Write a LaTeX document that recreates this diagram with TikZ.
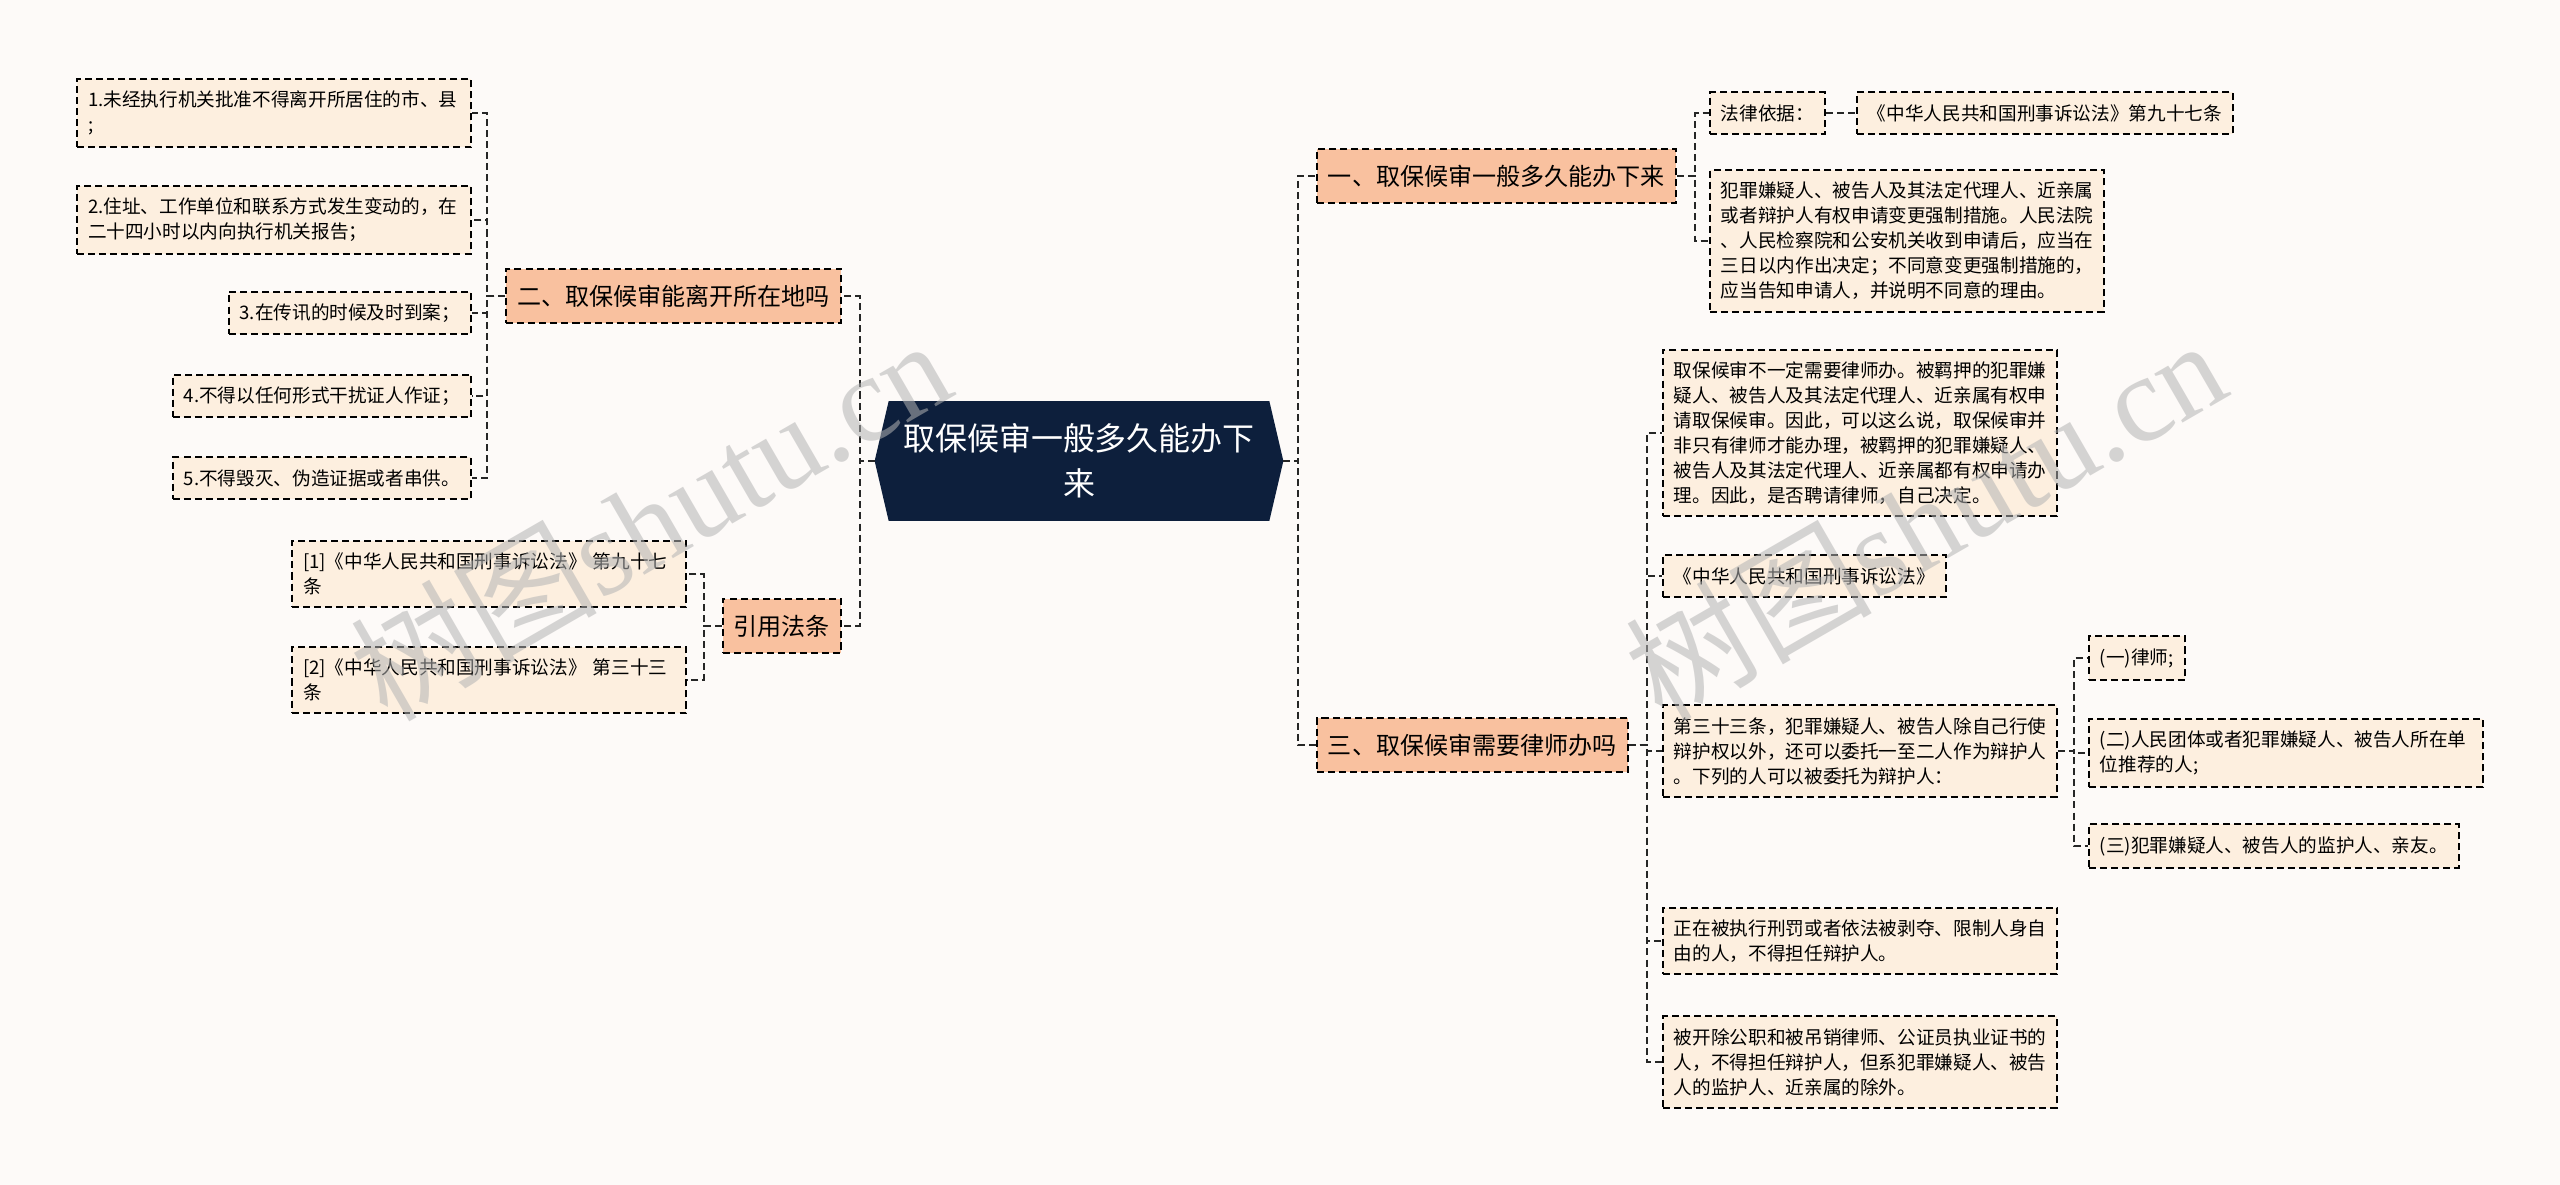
\documentclass[tikz,border=0pt]{standalone}
\usepackage{fontspec}
\setmainfont{Noto Sans CJK SC}
\newfontfamily\wmlatin{Liberation Serif}
\usetikzlibrary{calc,backgrounds}
\definecolor{pagebg}{HTML}{FDFAF8}
\definecolor{leafbg}{HTML}{FDEFDF}
\definecolor{branchbg}{HTML}{F9C19F}
\definecolor{rootbg}{HTML}{0D1F3C}
\definecolor{wmgray}{HTML}{B4B4B4}
\newcommand\leaffont{\fontsize{10.6pt}{14.2pt}\selectfont}
\newcommand\branchfont{\fontsize{13.7pt}{16pt}\selectfont}
\newcommand\rootfont{\fontsize{18.2pt}{25.6pt}\selectfont}

\begin{document}
\begin{tikzpicture}[x=0.2mm, y=-0.2mm,
		box/.style={draw=black, dash pattern=on 4pt off 2.3pt, line width=1.1pt, inner xsep=2.2mm, inner ysep=2.4mm, align=left},
		leaf/.style={box, fill=leafbg, font=\leaffont},
		wide/.style={leaf, text width=74.4mm},
		branch/.style={box, fill=branchbg, font=\branchfont, minimum height=10.8mm},
		link/.style={draw=black!85, dash pattern=on 4pt off 2.3pt, line width=1.1pt},
		watermark/.style={text=wmgray, opacity=0.55, font=\fontsize{70pt}{70pt}\selectfont, rotate=30}]
		\useasboundingbox (0,0) rectangle (2560,1185);
		\node (main) at (1079,461) [minimum width=81.6mm, minimum height=23.8mm, text=white, font=\rootfont, align=center] {取保候审一般多久能办下\\来};
		\begin{scope}[on background layer]
			\fill [pagebg] (0,0) rectangle (2560,1185);
			\fill [rootbg] (main.west) -- ($(main.north west)+(14,0)$) -- ($(main.north east)+(-14,0)$) -- (main.east) -- ($(main.south east)+(-14,0)$) -- ($(main.south west)+(14,0)$) -- cycle;
		\end{scope}

		\node (L2) at (842,296) [branch, anchor=east] {二、取保候审能离开所在地吗};
		\node (B1) at (472,113) [wide, anchor=east] {1.未经执行机关批准不得离开所居住的市、县\\;};
		\node (B2) at (472,220) [wide, anchor=east] {2.住址、工作单位和联系方式发生变动的，在\\二十四小时以内向执行机关报告；};
		\node (B3) at (472,313) [leaf, anchor=east] {3.在传讯的时候及时到案；};
		\node (B4) at (472,396) [leaf, anchor=east] {4.不得以任何形式干扰证人作证；};
		\node (B5) at (472,478) [leaf, anchor=east] {5.不得毁灭、伪造证据或者串供。};

		\node (cite) at (842,626) [branch, anchor=east] {引用法条};
		\node (ref1) at (687,574) [wide, anchor=east] {[1]《中华人民共和国刑事诉讼法》 第九十七\\条};
		\node (ref2) at (687,680) [wide, anchor=east] {[2]《中华人民共和国刑事诉讼法》 第三十三\\条};

		\node (R1) at (1316,176) [branch, anchor=west] {一、取保候审一般多久能办下来};
		\node (basis) at (1709,113) [leaf, anchor=west] {法律依据：};
		\node (law97) at (1856,113) [leaf, anchor=west] {《中华人民共和国刑事诉讼法》第九十七条};
		\node (change) at (1709,241) [wide, anchor=west] {犯罪嫌疑人、被告人及其法定代理人、近亲属\\或者辩护人有权申请变更强制措施。人民法院\\、人民检察院和公安机关收到申请后，应当在\\三日以内作出决定；不同意变更强制措施的，\\应当告知申请人，并说明不同意的理由。};

		\node (R3) at (1316,745) [branch, anchor=west] {三、取保候审需要律师办吗};
		\node (T1) at (1662,433) [wide, anchor=west] {取保候审不一定需要律师办。被羁押的犯罪嫌\\疑人、被告人及其法定代理人、近亲属有权申\\请取保候审。因此，可以这么说，取保候审并\\非只有律师才能办理，被羁押的犯罪嫌疑人、\\被告人及其法定代理人、近亲属都有权申请办\\理。因此，是否聘请律师，自己决定。};
		\node (T2) at (1662,576) [leaf, anchor=west] {《中华人民共和国刑事诉讼法》};
		\node (T3) at (1662,751) [wide, anchor=west] {第三十三条，犯罪嫌疑人、被告人除自己行使\\辩护权以外，还可以委托一至二人作为辩护人\\。下列的人可以被委托为辩护人：};
		\node (S1) at (2088,658) [leaf, anchor=west] {(一)律师;};
		\node (S2) at (2088,753) [wide, anchor=west] {(二)人民团体或者犯罪嫌疑人、被告人所在单\\位推荐的人;};
		\node (S3) at (2088,846) [leaf, anchor=west] {(三)犯罪嫌疑人、被告人的监护人、亲友。};
		\node (T4) at (1662,941) [wide, anchor=west] {正在被执行刑罚或者依法被剥夺、限制人身自\\由的人，不得担任辩护人。};
		\node (T5) at (1662,1062) [wide, anchor=west] {被开除公职和被吊销律师、公证员执业证书的\\人，不得担任辩护人，但系犯罪嫌疑人、被告\\人的监护人、近亲属的除外。};

		\draw [link] (main.west) -- ++(-15,0) |- (L2.east);
		\draw [link] (main.west) -- ++(-15,0) |- (cite.east);
		\draw [link] (main.east) -- ++(15,0) |- (R1.west);
		\draw [link] (main.east) -- ++(15,0) |- (R3.west);
		\draw [link] (L2.west) -- ++(-18,0) |- (B1.east);
		\draw [link] (L2.west) -- ++(-18,0) |- (B2.east);
		\draw [link] (L2.west) -- ++(-18,0) |- (B3.east);
		\draw [link] (L2.west) -- ++(-18,0) |- (B4.east);
		\draw [link] (L2.west) -- ++(-18,0) |- (B5.east);
		\draw [link] (cite.west) -- ++(-18,0) |- (ref1.east);
		\draw [link] (cite.west) -- ++(-18,0) |- (ref2.east);
		\draw [link] (R1.east) -- ++(18,0) |- (basis.west);
		\draw [link] (R1.east) -- ++(18,0) |- (change.west);
		\draw [link] (basis.east) -- (law97.west);
		\draw [link] (R3.east) -- ++(18,0) |- (T1.west);
		\draw [link] (R3.east) -- ++(18,0) |- (T2.west);
		\draw [link] (R3.east) -- ++(18,0) |- (T3.west);
		\draw [link] (R3.east) -- ++(18,0) |- (T4.west);
		\draw [link] (R3.east) -- ++(18,0) |- (T5.west);
		\draw [link] (T3.east) -- ++(16,0) |- (S1.west);
		\draw [link] (T3.east) -- ++(16,0) |- (S2.west);
		\draw [link] (T3.east) -- ++(16,0) |- (S3.west);

		\node (wmleft) at (650,518) [watermark] {树图{\wmlatin shutu.cn}};
		\node (wmright) at (1925,518) [watermark] {树图{\wmlatin shutu.cn}};
	\end{tikzpicture}
\end{document}
